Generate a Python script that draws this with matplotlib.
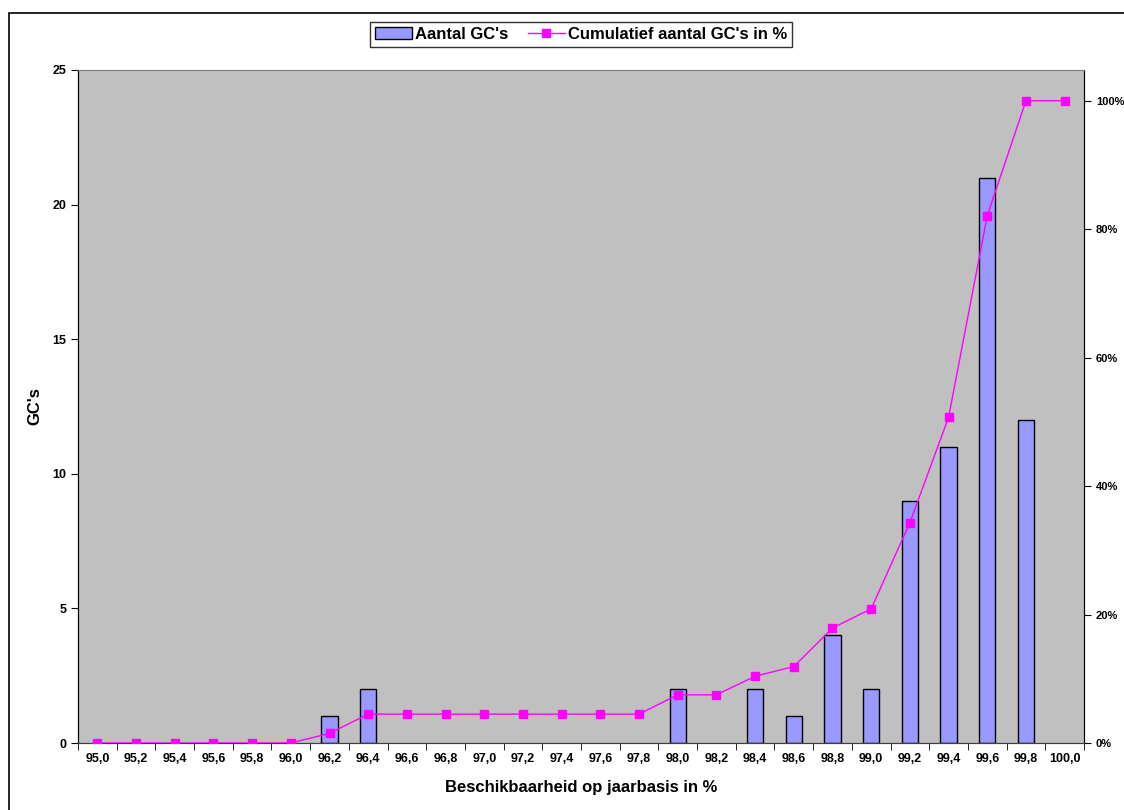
import numpy as np
import matplotlib.pyplot as plt
from matplotlib.patches import Patch
from matplotlib.ticker import PercentFormatter

plt.rcParams['font.family'] = ['Liberation Sans', 'DejaVu Sans']
plt.rcParams['font.weight'] = 'bold'

# Beschikbaarheid klassen (0,2 % stappen)
klassen = ['95,0', '95,2', '95,4', '95,6', '95,8', '96,0', '96,2', '96,4', '96,6',
           '96,8', '97,0', '97,2', '97,4', '97,6', '97,8', '98,0', '98,2', '98,4',
           '98,6', '98,8', '99,0', '99,2', '99,4', '99,6', '99,8', '100,0']
aantal = [0, 0, 0, 0, 0, 0, 1, 2, 0, 0, 0, 0, 0, 0, 0, 2, 0, 2, 1, 4, 2, 9, 11, 21, 12, 0]
cumulatief = [0.0, 0.0, 0.0, 0.0, 0.0, 0.0, 1.5, 4.5, 4.5, 4.5, 4.5, 4.5, 4.5, 4.5, 4.5,
              7.5, 7.5, 10.4, 11.9, 17.9, 20.9, 34.3, 50.7, 82.1, 100.0, 100.0]

x = np.arange(len(klassen))

fig = plt.figure(figsize=(11.24, 8.10), dpi=100)
ax = fig.add_axes([0.0694, 0.0827, 0.895, 0.831])
ax.set_facecolor('#C0C0C0')

bars = ax.bar(x, aantal, width=0.42, color='#9999FF', edgecolor='black', linewidth=1,
              zorder=2)
# lege klassen zonder rand tekenen
for b, n in zip(bars, aantal):
    if n == 0:
        b.set_linewidth(0)
bar_handle = Patch(facecolor='#9999FF', edgecolor='black', linewidth=1)

ax.set_xlim(-0.5, len(klassen) - 0.5)
ax.set_ylim(0, 25)
ax.set_yticks(range(0, 26, 5))
ax.set_xticks(x)
ax.set_xticklabels(klassen, fontsize=9)
ax.tick_params(axis='x', length=0, pad=7)
ax.set_xticks(np.arange(len(klassen) + 1) - 0.5, minor=True)
ax.tick_params(axis='x', which='minor', length=5, direction='out')
ax.tick_params(axis='y', labelsize=9, length=5, direction='out')
ax.set_ylabel("GC's", fontsize=12, fontweight='bold', labelpad=7)
ax.set_xlabel('Beschikbaarheid op jaarbasis in %', fontsize=12, fontweight='bold', labelpad=11)

ax2 = ax.twinx()
line, = ax2.plot(x, cumulatief, color='#FF00FF', linewidth=1, marker='s', markersize=6,
                 zorder=3)
ax2.set_ylim(0, 104.8)
ax2.set_yticks(range(0, 101, 20))
ax2.yaxis.set_major_formatter(PercentFormatter(decimals=0))
ax2.tick_params(axis='y', labelsize=8, length=5, direction='out')

for a in (ax, ax2):
    a.spines['top'].set_color('#808080')
    a.spines['left'].set_color('black')
    a.spines['right'].set_color('black')
    a.spines['bottom'].set_color('#404040')

leg = fig.legend([bar_handle, line], ["Aantal GC's", "Cumulatief aantal GC's in %"],
                 loc='center', bbox_to_anchor=(0.517, 0.958), ncol=2, fontsize=12,
                 frameon=True, fancybox=False, edgecolor='black', handlelength=2.2,
                 handletextpad=0.2, columnspacing=1.2, borderpad=0.3)
leg.get_frame().set_linewidth(1)

# rand om de hele grafiek
fig.add_artist(plt.Rectangle((9 / 1124, -0.05), 1.1, 1 - 13 / 810 + 0.05,
                             transform=fig.transFigure, fill=False, edgecolor='black',
                             linewidth=1.2))

fig.savefig('out.png', dpi=100)
